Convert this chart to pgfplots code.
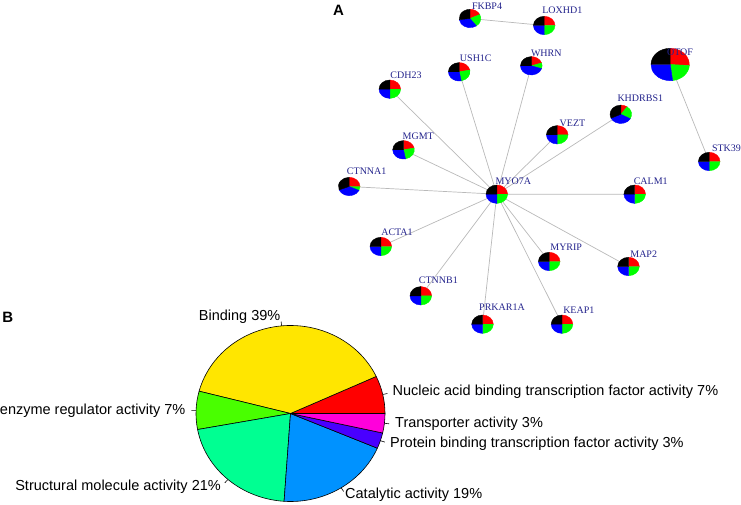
\documentclass[border=0pt]{standalone}
\usepackage{pgfplots}
\usepackage{pgfplotstable}
\pgfplotsset{compat=1.18}
\usepackage{fontspec}
\setmainfont{Liberation Serif}
\setsansfont{Liberation Sans}

\definecolor{gname}{RGB}{35,35,140}
\definecolor{gedge}{RGB}{185,185,185}
% slice colours, in slice order
\definecolor{pie0}{HTML}{FF0000}
\definecolor{pie1}{HTML}{FFE600}
\definecolor{pie2}{HTML}{49FF00}
\definecolor{pie3}{HTML}{00FF92}
\definecolor{pie4}{HTML}{0092FF}
\definecolor{pie5}{HTML}{4900FF}
\definecolor{pie6}{HTML}{FF00DB}

\pgfdeclareplotmark{blank}{}

% network: node centre (px), radii, share of red / green / blue (rest black), label centre
\pgfplotstableread{
name    x     y     rx   ry   r    g    b    lx    ly
FKBP4   470   18.5  10.8 9.2  0.18 0.22 0.33 487   6
LOXHD1  544.2 25.5  10.8 9.2  0.25 0.25 0.25 562.3 10.7
USH1C   459.2 71.8  10.8 9.2  0.22 0.25 0.28 475.8 58.3
WHRN    531.3 65.8  10.8 9.2  0.20 0.10 0.45 546.3 53.3
CDH23   389.8 89.2  10.8 9.2  0.25 0.25 0.25 406   75
OTOF    670.2 64.5  19.2 16.2 0.26 0.22 0.27 680   52.3
KHDRBS1 620.8 114.3 10.8 9.2  0.10 0.23 0.35 640.3 98.7
VEZT    557.2 134.8 10.8 9.2  0.25 0.25 0.25 572.5 123
MGMT    403.5 149.8 10.8 9.2  0.22 0.25 0.28 418.3 136.7
CTNNA1  349.2 186.5 10.8 9.2  0.25 0.07 0.37 366.7 171.7
MYO7A   496.8 194.2 10.8 9.2  0.25 0.25 0.25 513.3 181
CALM1   634.7 194.2 10.8 9.2  0.25 0.25 0.25 650.7 181
STK39   709.2 161.5 10.8 9.2  0.25 0.25 0.25 726.5 148.3
ACTA1   380.8 246.5 10.8 9.2  0.25 0.25 0.25 397   232.7
MYRIP   549.2 261.5 10.8 9.2  0.25 0.25 0.25 566.2 247.3
MAP2    628.5 266.5 10.8 9.2  0.25 0.25 0.25 643.7 254.3
CTNNB1  420.8 295.8 10.8 9.2  0.25 0.25 0.25 438.3 280.7
PRKAR1A 482.5 324.2 10.8 9.2  0.25 0.25 0.25 502   307.5
KEAP1   562   324.2 10.8 9.2  0.25 0.25 0.25 578.8 310
}\nettab

% molecular function pie: slice start/end angle (deg, counter-clockwise from 3 o'clock)
\pgfplotstableread{
x     y     a0    a1    c
290.5 413.5 0     24.9  0
290.5 413.5 24.9  165.3 1
290.5 413.5 165.3 190.5 2
290.5 413.5 190.5 266.1 3
290.5 413.5 266.1 336.8 4
290.5 413.5 336.8 347.2 5
290.5 413.5 347.2 360   6
}\pietab

\pgfplotstableread{
x     y     label
391.9 392.2 {Nucleic acid binding transcription factor activity 7\%}
344.5 494.5 {Catalytic activity 19\%}
389.5 444.0 {Protein binding transcription factor activity 3\%}
394.5 424.0 {Transporter activity 3\%}
}\pielabelsR

\pgfplotstableread{
x     y     label
281.0 317.0 {Binding 39\%}
186.0 410.5 {enzyme regulator activity 7\%}
221.5 486.5 {Structural molecule activity 21\%}
}\pielabelsL

\begin{document}
\begin{tikzpicture}
\useasboundingbox (0,0) rectangle (741bp,505bp);
\begin{axis}[
    at={(0,0)}, anchor=south west,
    scale only axis, width=741bp, height=505bp,
    xmin=0, xmax=741, ymin=0, ymax=505, y dir=reverse,
    hide axis, clip=false,
]

% edges
\addplot[gedge, line width=0.7bp, unbounded coords=jump] coordinates {
    (496.8,194.2) (389.8,89.2)  (nan,nan)
    (496.8,194.2) (459.2,71.8)  (nan,nan)
    (496.8,194.2) (531.3,65.8)  (nan,nan)
    (496.8,194.2) (557.2,134.8) (nan,nan)
    (496.8,194.2) (620.8,114.3) (nan,nan)
    (496.8,194.2) (403.5,149.8) (nan,nan)
    (496.8,194.2) (349.2,186.5) (nan,nan)
    (496.8,194.2) (634.7,194.2) (nan,nan)
    (496.8,194.2) (380.8,246.5) (nan,nan)
    (496.8,194.2) (420.8,295.8) (nan,nan)
    (496.8,194.2) (482.5,324.2) (nan,nan)
    (496.8,194.2) (562,324.2)   (nan,nan)
    (496.8,194.2) (549.2,261.5) (nan,nan)
    (496.8,194.2) (628.5,266.5) (nan,nan)
    (470,18.5)    (544.2,25.5)  (nan,nan)
    (670.2,64.5)  (709.2,161.5)
};

% pie-shaped nodes
\addplot[only marks, mark=blank, scatter,
    visualization depends on={\thisrow{rx} \as \prx},
    visualization depends on={\thisrow{ry} \as \pry},
    visualization depends on={\thisrow{r} \as \pfr},
    visualization depends on={\thisrow{g} \as \pfg},
    visualization depends on={\thisrow{b} \as \pfb},
    scatter/@pre marker code/.code={%
        \pgfmathsetmacro\angA{90-360*\pfr}%
        \pgfmathsetmacro\angB{\angA-360*\pfg}%
        \pgfmathsetmacro\angC{\angB-360*\pfb}%
        \fill[red] (0pt,0pt) -- (90:\prx bp and \pry bp)
            arc[start angle=90, end angle=\angA, x radius=\prx bp, y radius=\pry bp] -- cycle;
        \fill[green] (0pt,0pt) -- (\angA:\prx bp and \pry bp)
            arc[start angle=\angA, end angle=\angB, x radius=\prx bp, y radius=\pry bp] -- cycle;
        \fill[blue] (0pt,0pt) -- (\angB:\prx bp and \pry bp)
            arc[start angle=\angB, end angle=\angC, x radius=\prx bp, y radius=\pry bp] -- cycle;
        \fill[black] (0pt,0pt) -- (\angC:\prx bp and \pry bp)
            arc[start angle=\angC, end angle=-270, x radius=\prx bp, y radius=\pry bp] -- cycle;
    },
    scatter/@post marker code/.code={},
] table[x=x, y=y] {\nettab};

% gene names
\addplot[only marks, mark=blank, nodes near coords, point meta=explicit symbolic,
    nodes near coords style={anchor=center, inner sep=0pt, text=gname,
        font=\fontsize{10bp}{12bp}\selectfont},
] table[x=lx, y=ly, meta=name] {\nettab};

% pie chart
\addplot[only marks, mark=blank, scatter,
    visualization depends on={\thisrow{a0} \as \sa},
    visualization depends on={\thisrow{a1} \as \sb},
    visualization depends on={\thisrow{c} \as \sc},
    scatter/@pre marker code/.code={%
        \pgfmathtruncatemacro\ci{\sc}%
        \filldraw[fill=pie\ci, draw=black, line width=0.6bp, line join=round]
            (0pt,0pt) -- (\sa:94.5bp and 88bp)
            arc[start angle=\sa, end angle=\sb, x radius=94.5bp, y radius=88bp] -- cycle;
    },
    scatter/@post marker code/.code={},
] table[x=x, y=y] {\pietab};

% label ticks
\addplot[black, line width=0.6bp, unbounded coords=jump] coordinates {
    (382.7,394.5) (387.3,393.5) (nan,nan)
    (281.6,325.9) (281.1,321.5) (nan,nan)
    (196.0,410.7) (191.3,410.6) (nan,nan)
    (228.0,479.5) (224.8,482.8) (nan,nan)
    (341.2,487.8) (343.7,491.5) (nan,nan)
    (380.4,440.7) (384.9,442.1) (nan,nan)
    (384.4,423.3) (389.1,423.8)
};

% slice labels
\addplot[only marks, mark=blank, nodes near coords, point meta=explicit symbolic,
    nodes near coords style={anchor=west, inner sep=0.5bp,
        font=\sffamily\fontsize{14.5bp}{17bp}\selectfont},
] table[x=x, y=y, meta=label] {\pielabelsR};
\addplot[only marks, mark=blank, nodes near coords, point meta=explicit symbolic,
    nodes near coords style={anchor=east, inner sep=0.5bp,
        font=\sffamily\fontsize{14.5bp}{17bp}\selectfont},
] table[x=x, y=y, meta=label] {\pielabelsL};

\node[font=\sffamily\bfseries\fontsize{15bp}{18bp}\selectfont] at (axis cs:338.5,10.5) {A};
\node[font=\sffamily\bfseries\fontsize{15bp}{18bp}\selectfont] at (axis cs:7.7,317) {B};

\end{axis}
\end{tikzpicture}
\end{document}
